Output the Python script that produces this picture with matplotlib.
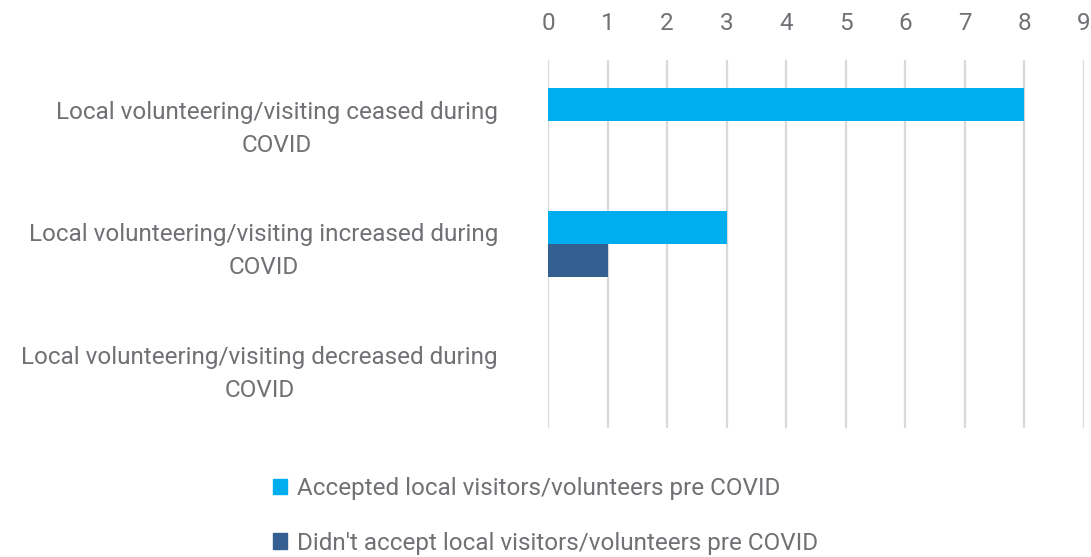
import numpy as np
import matplotlib.pyplot as plt
from matplotlib.patches import Patch

plt.rcParams['font.family'] = ['Roboto', 'DejaVu Sans']

categories = [
    "Local volunteering/visiting ceased during\nCOVID",
    "Local volunteering/visiting increased during\nCOVID",
    "Local volunteering/visiting decreased during\nCOVID",
]
accepted = [8, 3, 0]
not_accepted = [0, 1, 0]
series_names = [
    "Accepted local visitors/volunteers pre COVID",
    "Didn't accept local visitors/volunteers pre COVID",
]
colors = ['#00AEEF', '#335F91']
text_color = '#707075'
fs = 17.5

fig = plt.figure(figsize=(10.91, 5.57), dpi=100)
ax = fig.add_axes([0.5023, 0.2316, 0.4913, 0.6607])

y = np.arange(len(categories))
h = 0.27
ax.barh(y - h / 2, accepted, height=h, color=colors[0], zorder=3)
ax.barh(y + h / 2, not_accepted, height=h, color=colors[1], zorder=3)

ax.set_xlim(0, 9)
ax.set_ylim(len(categories) - 0.5, -0.5)
ax.set_xticks(range(0, 10))
ax.set_yticks(y)
ax.set_yticklabels(categories)
for lbl in ax.get_yticklabels():
    lbl.set_multialignment('center')
    lbl.set_linespacing(1.55)

ax.xaxis.tick_top()
ax.tick_params(axis='x', length=0, pad=18, labelsize=fs, labelcolor=text_color)
ax.tick_params(axis='y', length=0, pad=36, labelsize=fs, labelcolor=text_color)
ax.grid(axis='x', color='#d9d9d9', linewidth=1.6, zorder=0)
for s in ax.spines.values():
    s.set_visible(False)

handles = [Patch(color=c) for c in colors]
fig.legend(handles, series_names, loc='lower center', bbox_to_anchor=(0.5, -0.035),
           ncol=1, frameon=False, fontsize=fs, labelcolor=text_color,
           handlelength=0.6, handleheight=0.6, handletextpad=0.4, labelspacing=1.3)

fig.savefig('out.png', dpi=100)
